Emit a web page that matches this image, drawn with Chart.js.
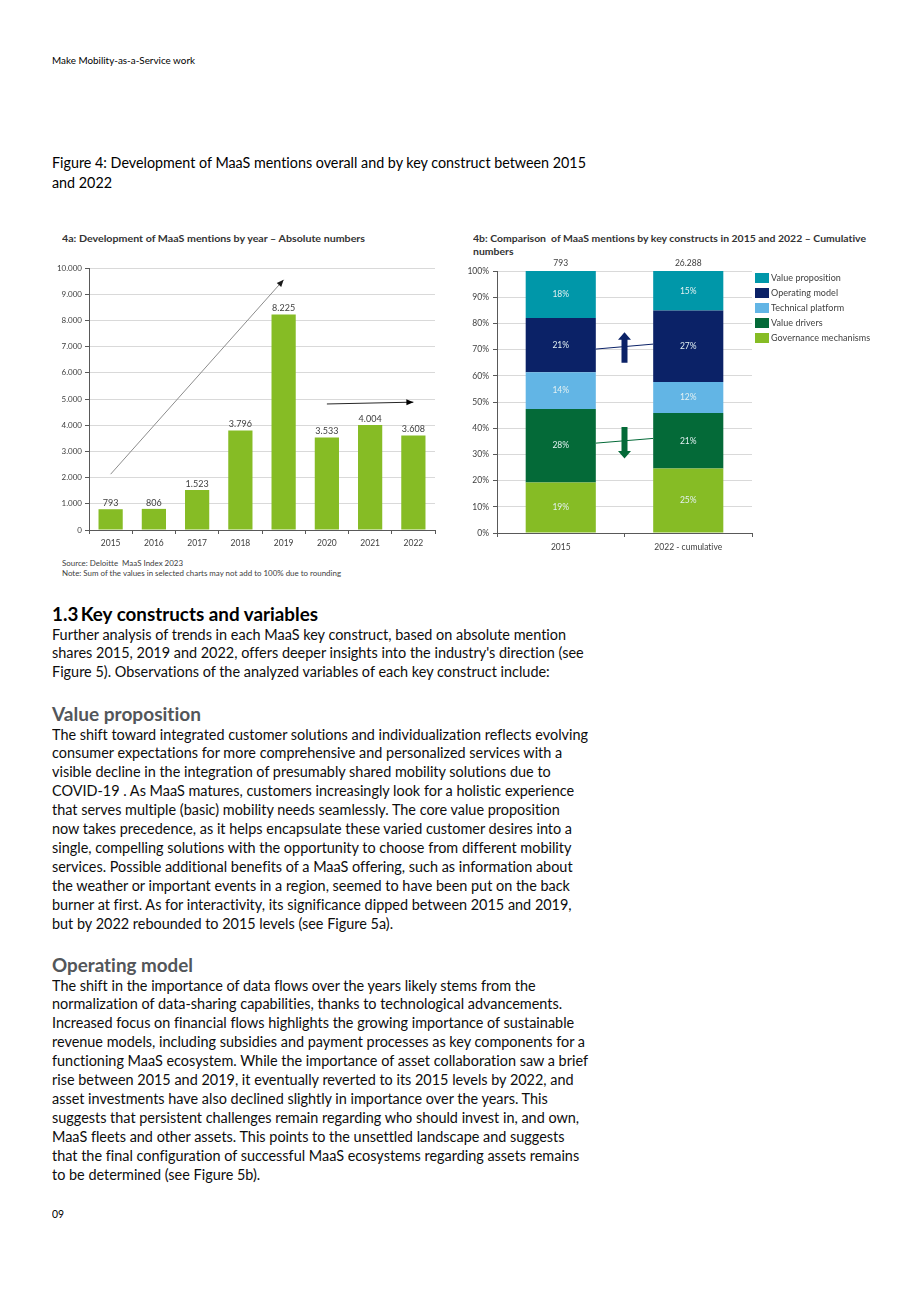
<!DOCTYPE html>
<html>
<head>
<meta charset="utf-8">
<script src="https://cdn.jsdelivr.net/npm/chart.js@4.4.1/dist/chart.umd.min.js"></script>
<style>
  html,body{margin:0;padding:0;background:#fff;}
  body{width:920px;height:1302px;position:relative;overflow:hidden;font-family:Lato,"Open Sans",sans-serif;color:#000;
       font-variant-ligatures:none;font-feature-settings:"liga" 0,"dlig" 0;}
  .blk{position:absolute;left:52px;white-space:nowrap;transform-origin:0 0;}
  .ln span{display:inline-block;}
  .hdr{font-size:10px;line-height:12px;}
  .cap{font-size:14.5px;line-height:20px;}
  .ctitle{font-size:9.5px;line-height:13px;font-weight:bold;color:#333;}
  .src{font-size:8px;line-height:10px;color:#404040;}
  .h1{font-size:19px;line-height:22px;font-weight:bold;}
  .body{font-size:14.5px;line-height:18.9px;color:#0d0d0d;}
  .h2{font-size:18px;line-height:22px;font-weight:bold;color:#53565a;}
  canvas{position:absolute;}
</style>
</head>
<body>

<div class="blk hdr" style="top:54px" data-w="143"><div class="ln"><span>Make Mobility-as-a-Service work</span></div></div>

<div class="blk cap" style="top:153px" data-w="534">
  <div class="ln"><span>Figure 4: Development of MaaS mentions overall and by key construct between 2015</span></div>
  <div class="ln"><span>and 2022</span></div>
</div>

<div class="blk ctitle" style="top:232px;left:62px" data-w="303"><div class="ln"><span>4a: Development of MaaS mentions by year – Absolute numbers</span></div></div>
<div class="blk ctitle" style="top:232px;left:473px" data-w="393">
  <div class="ln"><span>4b: Comparison&nbsp; of MaaS mentions by key constructs in 2015 and 2022 – Cumulative</span></div>
  <div class="ln"><span>numbers</span></div>
</div>

<canvas id="c4a" width="400" height="300" style="left:40px;top:255px;width:400px;height:300px"></canvas>
<canvas id="c4b" width="425" height="300" style="left:455px;top:255px;width:425px;height:300px"></canvas>

<div class="blk src" style="top:558px;left:62px" data-w="279" data-ref="1">
  <div class="ln"><span>Source: Deloitte&nbsp; MaaS Index 2023</span></div>
  <div class="ln"><span>Note: Sum of the values in selected charts may not add to 100% due to rounding</span></div>
</div>

<div class="blk h1" style="top:603px" data-w="266"><div class="ln"><span>1.3&thinsp;Key constructs and variables</span></div></div>

<div class="blk body" style="top:625.5px" data-w="514">
  <div class="ln"><span>Further analysis of trends in each MaaS key construct, based on absolute mention</span></div>
  <div class="ln"><span>shares 2015, 2019 and 2022, offers deeper insights into the industry's direction (see</span></div>
  <div class="ln"><span>Figure 5). Observations of the analyzed variables of each key construct include:</span></div>
</div>

<div class="blk h2" style="top:703px" data-w="149"><div class="ln"><span>Value proposition</span></div></div>

<div class="blk body" style="top:725.5px" data-w="536">
  <div class="ln"><span>The shift toward integrated customer solutions and individualization reflects evolving</span></div>
  <div class="ln"><span>consumer expectations for more comprehensive and personalized services with a</span></div>
  <div class="ln"><span>visible decline in the integration of presumably shared mobility solutions due to</span></div>
  <div class="ln"><span>COVID-19 . As MaaS matures, customers increasingly look for a holistic experience</span></div>
  <div class="ln"><span>that serves multiple (basic) mobility needs seamlessly. The core value proposition</span></div>
  <div class="ln"><span>now takes precedence, as it helps encapsulate these varied customer desires into a</span></div>
  <div class="ln"><span>single, compelling solutions with the opportunity to choose from different mobility</span></div>
  <div class="ln"><span>services. Possible additional benefits of a MaaS offering, such as information about</span></div>
  <div class="ln"><span>the weather or important events in a region, seemed to have been put on the back</span></div>
  <div class="ln"><span>burner at first. As for interactivity, its significance dipped between 2015 and 2019,</span></div>
  <div class="ln"><span>but by 2022 rebounded to 2015 levels (see Figure 5a).</span></div>
</div>

<div class="blk h2" style="top:954px" data-w="141"><div class="ln"><span>Operating model</span></div></div>

<div class="blk body" style="top:976.5px" data-w="536" data-ref="4">
  <div class="ln"><span>The shift in the importance of data flows over the years likely stems from the</span></div>
  <div class="ln"><span>normalization of data-sharing capabilities, thanks to technological advancements.</span></div>
  <div class="ln"><span>Increased focus on financial flows highlights the growing importance of sustainable</span></div>
  <div class="ln"><span>revenue models, including subsidies and payment processes as key components for a</span></div>
  <div class="ln"><span>functioning MaaS ecosystem. While the importance of asset collaboration saw a brief</span></div>
  <div class="ln"><span>rise between 2015 and 2019, it eventually reverted to its 2015 levels by 2022, and</span></div>
  <div class="ln"><span>asset investments have also declined slightly in importance over the years. This</span></div>
  <div class="ln"><span>suggests that persistent challenges remain regarding who should invest in, and own,</span></div>
  <div class="ln"><span>MaaS fleets and other assets. This points to the unsettled landscape and suggests</span></div>
  <div class="ln"><span>that the final configuration of successful MaaS ecosystems regarding assets remains</span></div>
  <div class="ln"><span>to be determined (see Figure 5b).</span></div>
</div>

<div class="blk hdr" style="top:1208px;font-size:11px" data-w="12"><div class="ln"><span>09</span></div></div>

<script>
// ---------- DATA ----------
const years = ['2015', '2016', '2017', '2018', '2019', '2020', '2021', '2022'];
const mentions = [793, 806, 1523, 3796, 8225, 3533, 4004, 3608];

const periods = ['2015', '2022 - cumulative'];
const periodTotals = [793, 26288];
const governanceMechanisms = [19.3, 24.6];
const valueDrivers = [28.0, 21.2];
const technicalPlatform = [14.1, 11.8];
const operatingModel = [20.7, 27.3];
const valueProposition = [17.9, 15.1];

// annotation arrows (data coordinates: [category index, value])
const trendArrowsA = [
  { from: [0, 2130], to: [4, 9550], line: '#8c8c8c', head: '#1a1a1a' },
  { from: [5, 4810], to: [7, 4880], line: '#262626', head: '#000000' }
];
// 4b connectors (percent at 2015 bar edge -> percent at 2022 bar edge) and block arrows
const connectorsB = [
  { from: 70.2, to: 72.1, key: 'op' },
  { from: 34.3, to: 36.1, key: 'vd' }
];
const blockArrowsB = [
  { from: 65.0, to: 76.6, key: 'op' },
  { from: 40.5, to: 28.4, key: 'vd' }
];

// ---------- STYLE ----------
const GREEN = '#86bc25', TEAL = '#0097a9', NAVY = '#0b2267', LBLUE = '#62b5e5', DGREEN = '#046a38';
const AXIS = '#595959', GRID = '#d9d9d9', TXT = '#404040';
const keyColor = { op: NAVY, vd: DGREEN };
Chart.defaults.font.family = 'Lato, "Open Sans", sans-serif';

const fmt = n => String(n).replace(/\B(?=(\d{3})+(?!\d))/g, '.');

function arrowHead(ctx, x1, y1, x2, y2, len, half, color) {
  const a = Math.atan2(y2 - y1, x2 - x1);
  ctx.save();
  ctx.fillStyle = color;
  ctx.beginPath();
  ctx.moveTo(x2, y2);
  ctx.lineTo(x2 - len * Math.cos(a) + half * Math.sin(a), y2 - len * Math.sin(a) - half * Math.cos(a));
  ctx.lineTo(x2 - len * Math.cos(a) - half * Math.sin(a), y2 - len * Math.sin(a) + half * Math.cos(a));
  ctx.closePath();
  ctx.fill();
  ctx.restore();
}

// ---------- 4a ----------
const plugin4a = {
  id: 'p4a',
  afterDatasetsDraw(chart) {
    const ctx = chart.ctx, xs = chart.scales.x, ys = chart.scales.y;
    const meta = chart.getDatasetMeta(0);
    ctx.save();
    ctx.font = '9px Lato';
    ctx.fillStyle = TXT;
    ctx.textAlign = 'center';
    ctx.textBaseline = 'bottom';
    meta.data.forEach((bar, i) => ctx.fillText(fmt(mentions[i]), bar.x, bar.y - 1.5));
    trendArrowsA.forEach(a => {
      const x1 = xs.getPixelForValue(a.from[0]), y1 = ys.getPixelForValue(a.from[1]);
      const x2 = xs.getPixelForValue(a.to[0]), y2 = ys.getPixelForValue(a.to[1]);
      ctx.strokeStyle = a.line;
      ctx.lineWidth = 1;
      ctx.beginPath();
      ctx.moveTo(x1, y1);
      ctx.lineTo(x2, y2);
      ctx.stroke();
      arrowHead(ctx, x1, y1, x2, y2, 7, 3, a.head);
    });
    ctx.restore();
  }
};

new Chart(document.getElementById('c4a'), {
  type: 'bar',
  data: {
    labels: years,
    datasets: [{ data: mentions, backgroundColor: GREEN, categoryPercentage: 1, barPercentage: 0.56 }]
  },
  options: {
    responsive: false, animation: false,
    layout: { padding: { top: 13, right: 5, bottom: 7, left: 0 } },
    plugins: { legend: { display: false }, tooltip: { enabled: false } },
    scales: {
      x: {
        grid: { drawOnChartArea: false, drawTicks: true, tickLength: 4, tickColor: AXIS, offset: true },
        border: { color: AXIS },
        ticks: { color: TXT, font: { size: 8.5 }, padding: 4 },
        afterFit(s) { s.height = 18; }
      },
      y: {
        min: 0, max: 10000,
        ticks: { stepSize: 1000, callback: v => fmt(v), color: TXT, font: { size: 8 }, padding: 3 },
        grid: { color: GRID, tickColor: AXIS, tickLength: 4 },
        border: { color: AXIS },
        afterFit(s) { s.width = 49; }
      }
    }
  },
  plugins: [plugin4a]
});

// ---------- 4b ----------
const plugin4b = {
  id: 'p4b',
  afterDatasetsDraw(chart) {
    const ctx = chart.ctx, xs = chart.scales.x, ys = chart.scales.y;
    ctx.save();
    // segment labels
    ctx.font = '8.5px Lato';
    ctx.textAlign = 'center';
    ctx.textBaseline = 'middle';
    ctx.fillStyle = '#e3f1f2';
    chart.data.datasets.forEach((ds, di) => {
      chart.getDatasetMeta(di).data.forEach((bar, i) => {
        ctx.fillText(Math.round(ds.data[i]) + '%', bar.x, (bar.y + bar.base) / 2);
      });
    });
    // totals
    ctx.fillStyle = TXT;
    const base = chart.getDatasetMeta(0).data;
    base.forEach((bar, i) => ctx.fillText(fmt(periodTotals[i]), bar.x, ys.getPixelForValue(100) - 8));
    // connectors
    connectorsB.forEach(c => {
      const b0 = base[0], b1 = base[1];
      ctx.strokeStyle = keyColor[c.key];
      ctx.lineWidth = 1;
      ctx.beginPath();
      ctx.moveTo(b0.x + b0.width / 2, ys.getPixelForValue(c.from));
      ctx.lineTo(b1.x - b1.width / 2, ys.getPixelForValue(c.to));
      ctx.stroke();
    });
    // block arrows
    const cx = xs.getPixelForValue(0.5);
    blockArrowsB.forEach(a => {
      const y1 = ys.getPixelForValue(a.from), y2 = ys.getPixelForValue(a.to);
      const dir = Math.sign(y2 - y1), headLen = 7.5, sw = 3, hw = 6.5;
      const yh = y2 - dir * headLen;
      ctx.fillStyle = keyColor[a.key];
      ctx.beginPath();
      ctx.moveTo(cx - sw, y1);
      ctx.lineTo(cx + sw, y1);
      ctx.lineTo(cx + sw, yh);
      ctx.lineTo(cx + hw, yh);
      ctx.lineTo(cx, y2);
      ctx.lineTo(cx - hw, yh);
      ctx.lineTo(cx - sw, yh);
      ctx.closePath();
      ctx.fill();
    });
    ctx.restore();
  },
  afterDraw(chart) {
    const ctx = chart.ctx, ca = chart.chartArea;
    ctx.save();
    ctx.font = '9px Lato';
    if ('letterSpacing' in ctx) ctx.letterSpacing = '0.05px';
    ctx.textAlign = 'left';
    ctx.textBaseline = 'middle';
    const items = chart.data.datasets.slice().reverse();
    items.forEach((ds, i) => {
      const y = ca.top + 7 + i * 15;
      ctx.fillStyle = ds.backgroundColor;
      ctx.fillRect(ca.right + 3, y - 5, 14, 10);
      ctx.fillStyle = TXT;
      ctx.fillText(ds.label, ca.right + 19, y);
    });
    ctx.restore();
  }
};

const barOpts = { categoryPercentage: 1, barPercentage: 0.55 };
new Chart(document.getElementById('c4b'), {
  type: 'bar',
  data: {
    labels: periods,
    datasets: [
      { label: 'Governance mechanisms', data: governanceMechanisms, backgroundColor: GREEN, ...barOpts },
      { label: 'Value drivers', data: valueDrivers, backgroundColor: DGREEN, ...barOpts },
      { label: 'Technical platform', data: technicalPlatform, backgroundColor: LBLUE, ...barOpts },
      { label: 'Operating model', data: operatingModel, backgroundColor: NAVY, ...barOpts },
      { label: 'Value proposition', data: valueProposition, backgroundColor: TEAL, ...barOpts }
    ]
  },
  options: {
    responsive: false, animation: false,
    layout: { padding: { top: 16, right: 128, bottom: 4, left: 0 } },
    plugins: { legend: { display: false }, tooltip: { enabled: false } },
    scales: {
      x: {
        stacked: true,
        grid: { drawOnChartArea: false, drawTicks: true, tickLength: 4, tickColor: AXIS, offset: true },
        border: { color: AXIS },
        ticks: { color: TXT, font: { size: 8.5 }, padding: 5 },
        afterFit(s) { s.height = 18; }
      },
      y: {
        stacked: true, min: 0, max: 100,
        ticks: { stepSize: 10, callback: v => v + '%', color: TXT, font: { size: 8.5 }, padding: 4 },
        grid: { color: GRID, tickColor: AXIS, tickLength: 4 },
        border: { color: AXIS },
        afterFit(s) { s.width = 42; }
      }
    }
  },
  plugins: [plugin4b]
});

// ---------- text width fitting ----------
function fitText() {
  document.querySelectorAll('.blk[data-w]').forEach(b => {
    const lines = b.querySelectorAll('.ln span');
    const ref = lines[parseInt(b.dataset.ref || '0', 10)];
    const w = ref.getBoundingClientRect().width;
    const f = parseFloat(b.dataset.w) / w;
    b.style.transform = 'scaleX(' + f.toFixed(4) + ')';
  });
}
fitText();
</script>
</body>
</html>
